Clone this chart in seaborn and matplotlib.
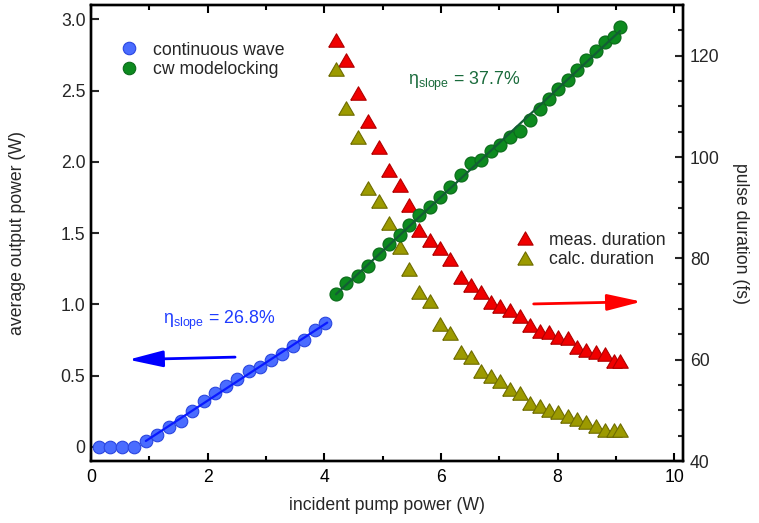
import numpy as np
import pandas as pd
import matplotlib
matplotlib.use("Agg")
import matplotlib.pyplot as plt
from matplotlib.lines import Line2D
from matplotlib.ticker import MultipleLocator, FuncFormatter
import seaborn as sns

# ---------------- data ----------------
cw_pump = [0.13, 0.33, 0.53, 0.74, 0.94, 1.14, 1.34, 1.54, 1.74, 1.93, 2.12,
           2.31, 2.51, 2.71, 2.90, 3.09, 3.27, 3.46, 3.65, 3.84, 4.02]
cw_power = [0, 0, 0, 0, 0.042, 0.085, 0.136, 0.178, 0.254, 0.319, 0.375,
            0.425, 0.472, 0.530, 0.559, 0.606, 0.653, 0.704, 0.751, 0.817, 0.868]

ml_pump = [4.20, 4.38, 4.57, 4.75, 4.94, 5.11, 5.29, 5.46, 5.63, 5.81, 5.99,
           6.16, 6.34, 6.51, 6.68, 6.85, 7.02, 7.19, 7.36, 7.52, 7.69, 7.85,
           8.01, 8.17, 8.33, 8.49, 8.65, 8.81, 8.96, 9.07]
ml_power = [1.07, 1.146, 1.199, 1.27, 1.352, 1.421, 1.484, 1.559, 1.627, 1.685,
            1.756, 1.822, 1.905, 1.988, 2.014, 2.073, 2.115, 2.174, 2.213, 2.291,
            2.373, 2.437, 2.512, 2.577, 2.641, 2.713, 2.777, 2.840, 2.875, 2.948]
meas_duration = [123.1, 119.1, 112.7, 107.1, 101.9, 97.5, 94.4, 90.6, 85.6, 83.6,
                 82.1, 79.9, 76.3, 74.7, 73.3, 71.3, 70.6, 69.9, 68.7, 66.8,
                 65.6, 65.4, 64.4, 64.3, 62.5, 62.0, 61.5, 61.1, 59.7, 59.7]
calc_duration = [117.3, 109.6, 103.9, 93.9, 91.4, 86.9, 82.2, 77.8, 73.4, 71.6,
                 67.1, 65.3, 61.6, 60.6, 57.7, 56.7, 55.7, 54.2, 53.4, 51.5,
                 50.8, 50.1, 49.6, 48.8, 48.2, 47.6, 46.9, 46.2, 46.2, 46.1]

labels_left = ["continuous wave", "cw modelocking"]
labels_right = ["meas. duration", "calc. duration"]
slope_texts = ["26.8%", "37.7%"]

# ---------------- style ----------------
sns.set_theme(style="white")
plt.rcParams["font.family"] = ["Liberation Sans", "DejaVu Sans"]
plt.rcParams["mathtext.default"] = "regular"

C_BLUE_FILL, C_BLUE_EDGE, C_BLUE_LINE = "#4a6cff", "#2a46e0", "#0a1aff"
C_GREEN_FILL, C_GREEN_EDGE, C_GREEN_LINE = "#0d8a1f", "#0a6a1a", "#135e34"
C_RED_FILL, C_RED_EDGE = "#f00000", "#b00000"
C_OLIVE_FILL, C_OLIVE_EDGE = "#9c9a00", "#6e6c00"
C_GREEN_TEXT = "#1a6b3c"
C_BLUE_TEXT = "#1f3cff"

FS = 12.7
TRI = [(-0.5, -0.433), (0.5, -0.433), (0.0, 0.433), (-0.5, -0.433)]

fig = plt.figure(figsize=(7.59, 5.23), dpi=100)
ax = fig.add_axes([91 / 759, 1 - 461 / 523, (683 - 91) / 759, (461 - 5) / 523])
ax2 = ax.twinx()

cw = pd.DataFrame({"pump": cw_pump, "power": cw_power})
ml = pd.DataFrame({"pump": ml_pump, "power": ml_power,
                   "meas": meas_duration, "calc": calc_duration})

# linear fits
cw_fit_src = cw[cw["power"] > 0]
p_cw = np.polyfit(cw_fit_src["pump"], cw_fit_src["power"], 1)
xs_cw = np.array([cw_fit_src["pump"].min(), cw_fit_src["pump"].max() + 0.03])
fit_cw = pd.DataFrame({"pump": xs_cw, "power": np.polyval(p_cw, xs_cw)})
p_ml = np.polyfit(ml["pump"], ml["power"], 1)
xs_ml = np.array([ml["pump"].min(), ml["pump"].max()])
fit_ml = pd.DataFrame({"pump": xs_ml, "power": np.polyval(p_ml, xs_ml)})

# triangles on twin axis (drawn below)
sns.scatterplot(data=ml, x="pump", y="meas", ax=ax2, marker=TRI, s=125,
                color=C_RED_FILL, edgecolor=C_RED_EDGE, linewidth=0.8, zorder=3)
sns.scatterplot(data=ml, x="pump", y="calc", ax=ax2, marker=TRI, s=125,
                color=C_OLIVE_FILL, edgecolor=C_OLIVE_EDGE, linewidth=0.8, zorder=3)

# circles on main axis
sns.scatterplot(data=cw, x="pump", y="power", ax=ax, marker="o", s=82,
                color=C_BLUE_FILL, edgecolor=C_BLUE_EDGE, linewidth=0.8, zorder=3)
sns.scatterplot(data=ml, x="pump", y="power", ax=ax, marker="o", s=88,
                color=C_GREEN_FILL, edgecolor=C_GREEN_EDGE, linewidth=0.8, zorder=3)
sns.lineplot(data=fit_cw, x="pump", y="power", ax=ax, color=C_BLUE_LINE,
             linewidth=1.6, zorder=4)
sns.lineplot(data=fit_ml, x="pump", y="power", ax=ax, color=C_GREEN_LINE,
             linewidth=1.6, zorder=4)

ax.set_zorder(ax2.get_zorder() + 1)
ax.patch.set_visible(False)

# limits / ticks
ax.set_xlim(0, 10.15)
ax.set_ylim(-0.1, 3.1)
ax2.set_ylim(40, 130)

ax.xaxis.set_major_locator(MultipleLocator(2))
ax.xaxis.set_minor_locator(MultipleLocator(1))
ax.yaxis.set_major_locator(MultipleLocator(0.5))
ax.yaxis.set_major_formatter(FuncFormatter(lambda v, p: "0" if abs(v) < 1e-9 else f"{v:.1f}"))
ax2.yaxis.set_major_locator(MultipleLocator(20))
ax2.yaxis.set_minor_locator(MultipleLocator(5))

for a in (ax, ax2):
    for sp in a.spines.values():
        sp.set_linewidth(1.7)
        sp.set_color("black")
ax.tick_params(axis="x", which="both", direction="in", top=True, bottom=True,
               width=1.5, colors="black", labelsize=FS, pad=6)
ax.tick_params(axis="x", which="major", length=6)
ax.tick_params(axis="x", which="minor", length=3.5)
ax.tick_params(axis="y", which="major", direction="in", left=True, right=False,
               length=6, width=1.5, labelsize=FS, pad=4)
ax2.tick_params(axis="y", which="major", direction="in", right=True, length=6,
                width=1.5, labelsize=FS, pad=5)
ax2.tick_params(axis="y", which="minor", direction="in", right=True, length=3.5,
                width=1.5)

ax.set_xlabel("incident pump power (W)", fontsize=FS, labelpad=8)
ax.set_ylabel("average output power (W)", fontsize=FS, labelpad=25)
ax2.set_ylabel("pulse duration (fs)", fontsize=FS, rotation=270, labelpad=21)

# annotations
ax.text(2.19, 0.887, r"$η_{slope}$ = " + slope_texts[0], color=C_BLUE_TEXT,
        fontsize=12.8, ha="center", va="center")
ax.text(6.40, 2.563, r"$η_{slope}$ = " + slope_texts[1], color=C_GREEN_TEXT,
        fontsize=12.8, ha="center", va="center")

arrow_kw = dict(arrowstyle="-|>,head_length=2.1,head_width=0.5", lw=2,
                shrinkA=0, shrinkB=0, mutation_scale=10)
ax.annotate("", xy=(0.64, 0.611), xytext=(2.47, 0.629),
            arrowprops=dict(color="#0000ff", **arrow_kw))
ax2.annotate("", xy=(9.44, 71.45), xytext=(7.59, 71.0),
             arrowprops=dict(color="#ff0000", **arrow_kw))

# legends
h_left = [Line2D([], [], ls="", marker="o", markersize=9, markerfacecolor=C_BLUE_FILL,
                 markeredgecolor=C_BLUE_EDGE, markeredgewidth=0.8),
          Line2D([], [], ls="", marker="o", markersize=9, markerfacecolor=C_GREEN_FILL,
                 markeredgecolor=C_GREEN_EDGE, markeredgewidth=0.8)]
h_right = [Line2D([], [], ls="", marker=TRI, markersize=11, markerfacecolor=C_RED_FILL,
                  markeredgecolor=C_RED_EDGE, markeredgewidth=0.8),
           Line2D([], [], ls="", marker=TRI, markersize=11, markerfacecolor=C_OLIVE_FILL,
                  markeredgecolor=C_OLIVE_EDGE, markeredgewidth=0.8)]
leg_kw = dict(frameon=False, fontsize=FS, handlelength=1.0, handletextpad=0.85,
              labelspacing=0.17, borderpad=0, borderaxespad=0, loc="center left",
              bbox_transform=fig.transFigure)
ax.legend(h_left, labels_left, bbox_to_anchor=(120.5 / 759, 1 - 60 / 523), **leg_kw)
ax2.legend(h_right, labels_right, bbox_to_anchor=(516.5 / 759, 1 - 250 / 523), **leg_kw)

fig.savefig("out.png", dpi=100)
